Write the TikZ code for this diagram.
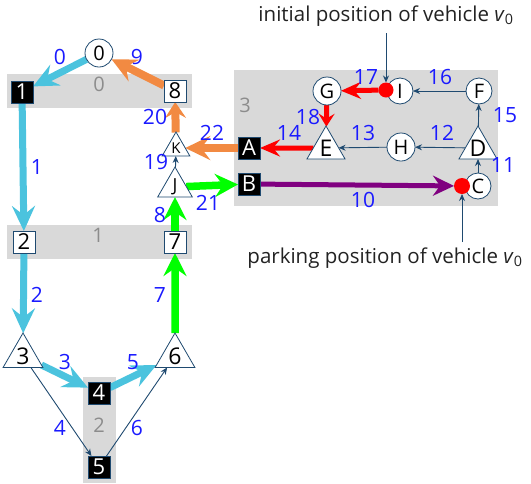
\documentclass[tikz,border=0pt]{standalone}
\usepackage{fontspec}
\setmainfont{Open Sans}
\usetikzlibrary{arrows.meta,shapes.geometric}

\definecolor{bandgray}{HTML}{D9D9D9}
\definecolor{bandtext}{HTML}{8C8C8C}
\definecolor{navy}{HTML}{1F4A70}
\definecolor{edgeblue}{HTML}{1A1AFF}
\definecolor{cyanpath}{HTML}{4BC3DE}
\definecolor{orangepath}{HTML}{F28A42}
\definecolor{greenpath}{HTML}{00FF00}
\definecolor{redpath}{HTML}{FF0000}
\definecolor{purplepath}{HTML}{800080}
\definecolor{captext}{HTML}{222222}

\pgfdeclarelayer{bands}
\pgfdeclarelayer{edges}
\pgfsetlayers{bands,edges,main}

\begin{document}
\begin{tikzpicture}[x=1pt,y=-1pt,
  every node/.style={inner sep=0pt, outer sep=0pt},
  band/.style={fill=bandgray, draw=none},
  bandlabel/.style={text=bandtext, font=\fontsize{20}{20}\selectfont},
  elabel/.style={text=edgeblue, font=\fontsize{21}{21}\selectfont},
  caption/.style={text=captext, font=\fontsize{20.5}{24}\selectfont, anchor=base},
  sq/.style={draw=navy, line width=0.8pt, fill=white, minimum size=22pt, font=\fontsize{22}{22}\selectfont},
  blk/.style={sq, fill=black, text=white},
  circ/.style={circle, draw=navy, line width=0.8pt, fill=white, minimum size=#1, font=\fontsize{20}{20}\selectfont},
  tri/.style={regular polygon, regular polygon sides=3, draw=navy, line width=0.8pt, fill=white, minimum size=#1, inner sep=-12pt, font=\fontsize{23}{23}\selectfont},
  reddot/.style={circle, fill=redpath, minimum size=#1},
  thinarrow/.style={draw=navy, line width=0.9pt, -{Stealth[length=7pt,width=6pt]}},
  fatcyan/.style={draw=cyanpath, line width=7pt, -{Stealth[length=25pt,width=23pt,inset=9pt]}},
  fatorange/.style={draw=orangepath, line width=8pt, -{Stealth[length=25pt,width=24pt,inset=9pt]}},
  fatgreen/.style={draw=greenpath, line width=7.5pt, -{Stealth[length=23pt,width=23pt,inset=8pt]}},
  fatred/.style={draw=redpath, line width=5pt, -{Stealth[length=20pt,width=17pt,inset=7pt]}},
  fatpurple/.style={draw=purplepath, line width=5pt, -{Stealth[length=21pt,width=20pt,inset=7pt]}},
]
\useasboundingbox (0,0) rectangle (531,483);

% grey groups
\begin{pgfonlayer}{bands}
  \fill[band] (7,74) rectangle (192,108);
  \fill[band] (7,225) rectangle (192,259);
  \fill[band] (83,377) rectangle (116,483);
  \fill[band] (234,70) rectangle (498,206);
\end{pgfonlayer}
\node[bandlabel] (g0) at (99,84) {0};
\node[bandlabel] (g1) at (98,235) {1};
\node[bandlabel] (g2) at (99,425) {2};
\node[bandlabel] (g3) at (245,105) {3};

% left part of the network
\node[circ=28pt] (n0) at (99,53) {0};
\node[blk] (n1) at (22,92) {1};
\node[sq] (n8) at (175,91) {8};
\node[sq] (n2) at (24,242) {2};
\node[sq] (n7) at (175,242) {7};
\node[tri=46pt] (n3) at (23,356) {3};
\node[tri=46pt] (n6) at (175,356) {6};
\node[blk] (n4) at (99,393) {4};
\node[blk] (n5) at (99,467) {5};
\node[tri=32pt, font=\fontsize{15}{15}\selectfont] (nK) at (176,148) {K};
\node[tri=40pt, font=\fontsize{18}{18}\selectfont] (nJ) at (175,187) {J};

% right part of the network
\node[blk] (nA) at (249,148) {A};
\node[blk] (nB) at (249,184) {B};
\node[circ=28pt] (nG) at (327,91) {G};
\node[circ=26pt] (nI) at (400,91) {I};
\node[circ=26pt] (nF) at (479,91) {F};
\node[tri=44pt] (nE) at (326,148) {E};
\node[circ=28pt] (nH) at (401,147) {H};
\node[tri=44pt] (nD) at (478,148) {D};
\node[circ=26pt] (nC) at (478,186) {C};
\node[reddot=15pt] (dotI) at (386,90) {};
\node[reddot=16pt] (dotC) at (462,186) {};

% captions for the vehicle positions
\node[caption] (initpos) at (386,21) {initial position of vehicle \textit{v}\textsubscript{0}};
\node[caption] (parkpos) at (385,263) {parking position of vehicle \textit{v}\textsubscript{0}};
\coordinate (initfoot) at (386,33);
\coordinate (parkfoot) at (462,242);

\begin{pgfonlayer}{edges}
  \draw[fatcyan] (n0) -- (n1);
  \draw[fatcyan] (n1) -- (n2);
  \draw[fatcyan] (n2) -- (n3);
  \draw[fatcyan] (n3) -- (n4);
  \draw[fatcyan] (n4) -- (n6);
  \draw[thinarrow] (n3) -- (n5);
  \draw[thinarrow] (n5) -- (n6);
  \draw[fatgreen] (n6) -- (n7);
  \draw[fatgreen] (n7) -- (nJ);
  \draw[thinarrow] (nJ) -- (nK);
  \draw[fatorange, -{Stealth[length=16pt,width=21pt,inset=6pt]}] (nK) -- (n8);
  \draw[fatorange] (n8) -- (n0);
  \draw[fatgreen] (nJ) -- (nB);
  \draw[fatorange] (nA) -- (nK);
  \draw[fatpurple] (nB) -- (dotC);
  \draw[thinarrow] (nC) -- (nD);
  \draw[thinarrow] (nD) -- (nH);
  \draw[thinarrow] (nH) -- (nE);
  \draw[fatred] (nE) -- (nA);
  \draw[thinarrow] (nD) -- (nF);
  \draw[thinarrow] (nF) -- (nI);
  \draw[fatred] (dotI) -- (nG);
  \draw[fatred, -{Stealth[length=13pt,width=16pt,inset=5pt]}] (nG) -- (nE);
  \draw[thinarrow] (initfoot) -- (dotI);
  \draw[thinarrow] (parkfoot) -- (dotC);
\end{pgfonlayer}

% edge numbers
\node[elabel] (l0) at (60,57) {0};
\node[elabel] (l1) at (37,167) {1};
\node[elabel] (l2) at (37,295) {2};
\node[elabel] (l3) at (65,362) {3};
\node[elabel] (l4) at (60,428) {4};
\node[elabel] (l5) at (133,362) {5};
\node[elabel] (l6) at (137,428) {6};
\node[elabel] (l7) at (160,295) {7};
\node[elabel] (l8) at (160,215) {8};
\node[elabel] (l9) at (137,57) {9};
\node[elabel] (l10) at (363,200) {10};
\node[elabel] (l11) at (503,165) {11};
\node[elabel] (l12) at (442,133) {12};
\node[elabel] (l13) at (363,133) {13};
\node[elabel] (l14) at (289,133) {14};
\node[elabel] (l15) at (505,115) {15};
\node[elabel] (l16) at (440,77) {16};
\node[elabel] (l17) at (366,77) {17};
\node[elabel] (l18) at (308,117) {18};
\node[elabel] (l19) at (156,162) {19};
\node[elabel] (l20) at (155,117) {20};
\node[elabel] (l21) at (208,203) {21};
\node[elabel] (l22) at (212,133) {22};
\end{tikzpicture}
\end{document}
